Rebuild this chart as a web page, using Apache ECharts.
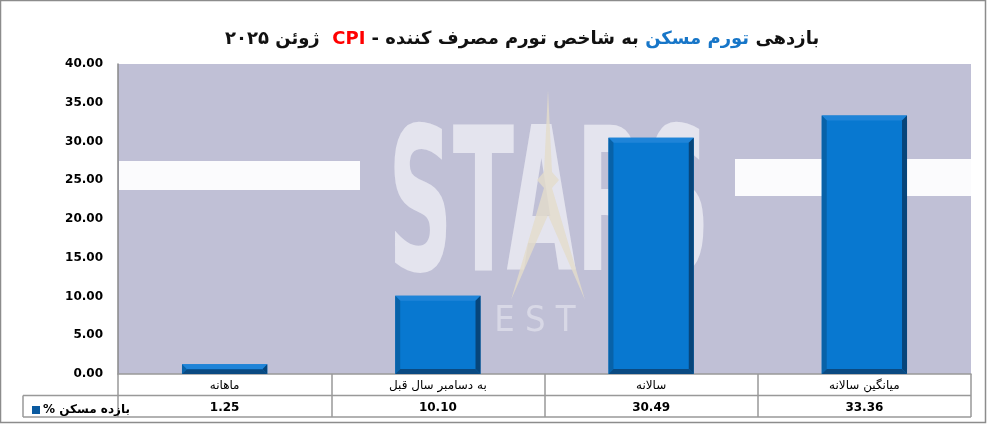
<!DOCTYPE html>
<html>
<head>
<meta charset="utf-8">
<script src="https://cdn.jsdelivr.net/npm/echarts@6/dist/echarts.min.js"></script>
<style>
  html, body { margin: 0; padding: 0; background: #fff; }
  #chart { width: 987px; height: 425px; }
</style>
</head>
<body>
<div id="chart"></div>
<script>
// categories (left to right as in the picture)
const categories = ['ماهانه', 'به دسامبر سال قبل', 'سالانه', 'میانگین سالانه']
// بازده مسکن %
const housingReturn = [1.25, 10.10, 30.49, 33.36]
const seriesName = 'بازده مسکن %'
const yTicks = { min: 0, max: 40, interval: 5 }

const faceColor = '#0878d0'
const fontFa = '"DejaVu Sans", sans-serif'

const chart = echarts.init(document.getElementById('chart'))

// bar with bevelled edges, drawn from axis coords
function bevelBar(params, api) {
  const top = api.coord([api.value(0), api.value(1)])
  const base = api.coord([api.value(0), 0])
  const bw = api.size([1, 0])[0] * 0.4
  const x0 = top[0] - bw / 2
  const x1 = x0 + bw
  const y0 = top[1]
  const y1 = base[1]
  const b = Math.min(5, (y1 - y0) / 2)
  const poly = (pts, fill) => ({ type: 'polygon', shape: { points: pts }, style: { fill: fill } })
  return {
    type: 'group',
    children: [
      { type: 'rect', shape: { x: x0, y: y0, width: bw, height: y1 - y0 }, style: { fill: faceColor } },
      poly([[x0, y0], [x1, y0], [x1 - b, y0 + b], [x0 + b, y0 + b]], '#1f84d8'),
      poly([[x0, y0], [x0 + b, y0 + b], [x0 + b, y1 - b], [x0, y1]], '#0862a8'),
      poly([[x1, y0], [x1, y1], [x1 - b, y1 - b], [x1 - b, y0 + b]], '#07457a'),
      poly([[x0, y1], [x1, y1], [x1 - b, y1 - b], [x0 + b, y1 - b]], '#0a4a82')
    ]
  }
}

const option = {
  backgroundColor: '#fff',
  animation: false,
  title: {
    left: 220,
    top: 25,
    text: '{a|ژوئن ۲۰۲۵  }{r|CPI}{a| - به شاخص تورم مصرف کننده }{b|تورم مسکن }{a|بازدهی}',
    textStyle: {
      rich: {
        a: { fontFamily: fontFa, fontWeight: 'bold', fontSize: 18, color: '#111' },
        b: { fontFamily: fontFa, fontWeight: 'bold', fontSize: 18, color: '#1776c8' },
        r: { fontFamily: fontFa, fontWeight: 'bold', fontSize: 18, color: '#ff0000' }
      }
    }
  },
  legend: {
    left: 27,
    top: 399,
    icon: 'rect',
    itemWidth: 8,
    itemHeight: 8,
    itemGap: 4,
    formatter: name => '% ' + name.replace(' %', ''),
    textStyle: { fontFamily: fontFa, fontWeight: 'bold', fontSize: 12, color: '#000', padding: [0, 0, 0, -2] },
    data: [seriesName]
  },
  grid: {
    left: 118,
    right: 16,
    top: 64,
    bottom: 51,
    show: true,
    backgroundColor: '#c0c0d6',
    borderWidth: 0
  },
  // watermark + frame + table lines
  graphic: [
    { type: 'rect', silent: true, z: 0, shape: { x: 0.5, y: 0.5, width: 985, height: 422 }, style: { fill: 'none', stroke: '#8c8c8c', lineWidth: 1.5 } },
    { type: 'rect', silent: true, z: 0, shape: { x: 119, y: 161, width: 241, height: 29 }, style: { fill: '#fbfbfd' } },
    { type: 'rect', silent: true, z: 0, shape: { x: 735, y: 159, width: 236, height: 37 }, style: { fill: '#fbfbfd' } },
    { type: 'text', silent: true, z: 0, x: 388, y: 118, scaleX: 0.5, style: { text: 'STARS', fill: '#ececf4', opacity: 0.8, font: 'bold 200px "DejaVu Sans Condensed", sans-serif' } },
    { type: 'polygon', silent: true, z: 0, shape: { points: [[548, 90], [552, 172], [559, 180], [552, 188], [585, 300], [548, 215], [511, 300], [544, 188], [537, 180], [544, 172]] }, style: { fill: '#e4dccb', opacity: 0.8 } },
    { type: 'text', silent: true, z: 0, x: 392, y: 304, style: { text: 'R   L   E S T   E', fill: '#e2e2ec', opacity: 0.7, font: '36px "DejaVu Sans Condensed", sans-serif' } },
    // data table lines
    { type: 'line', silent: true, z: 5, shape: { x1: 23, y1: 395.5, x2: 971, y2: 395.5 }, style: { stroke: '#999', lineWidth: 1.5 } },
    { type: 'line', silent: true, z: 5, shape: { x1: 23, y1: 417, x2: 971, y2: 417 }, style: { stroke: '#999', lineWidth: 1.5 } },
    { type: 'line', silent: true, z: 5, shape: { x1: 23, y1: 395.5, x2: 23, y2: 417 }, style: { stroke: '#999', lineWidth: 1.5 } }
  ],
  xAxis: [
    {
      type: 'category',
      data: categories,
      axisLine: { lineStyle: { color: '#999', width: 1.5 } },
      axisTick: { show: true, length: 43, interval: 0, lineStyle: { color: '#999', width: 1.5 } },
      axisLabel: { margin: 6, fontFamily: fontFa, fontSize: 12, color: '#000' }
    },
    {
      type: 'category',
      position: 'bottom',
      offset: 22,
      data: housingReturn.map(v => v.toFixed(2)),
      axisLine: { show: false },
      axisTick: { show: false },
      axisLabel: { margin: 6, fontFamily: fontFa, fontWeight: 'bold', fontSize: 12, color: '#000' }
    }
  ],
  yAxis: {
    type: 'value',
    min: yTicks.min,
    max: yTicks.max,
    interval: yTicks.interval,
    axisLine: { show: true, lineStyle: { color: '#888', width: 1.5 } },
    axisTick: { show: false },
    splitLine: { show: false },
    axisLabel: {
      margin: 15,
      fontFamily: fontFa,
      fontWeight: 'bold',
      fontSize: 12,
      color: '#000',
      formatter: v => v.toFixed(2)
    }
  },
  series: [{
    name: seriesName,
    type: 'custom',
    z: 3,
    itemStyle: { color: '#0a5aa0' },
    renderItem: bevelBar,
    encode: { x: 0, y: 1 },
    data: housingReturn.map((v, i) => [i, v])
  }]
}

chart.setOption(option)
</script>
</body>
</html>
